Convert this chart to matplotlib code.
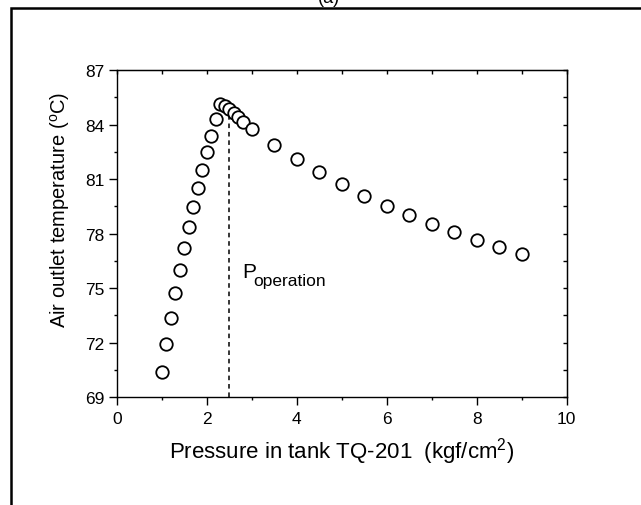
import matplotlib
matplotlib.use("Agg")
import matplotlib.pyplot as plt
from matplotlib.patches import Rectangle
from matplotlib.ticker import MultipleLocator

plt.rcParams['font.family'] = ['Liberation Sans', 'DejaVu Sans']
plt.rcParams['mathtext.fontset'] = 'custom'
plt.rcParams['mathtext.rm'] = 'Liberation Sans'
plt.rcParams['mathtext.it'] = 'Liberation Sans:italic'

# Data
pressure = [1.0, 1.1, 1.2, 1.3, 1.4, 1.5, 1.6, 1.7, 1.8, 1.9, 2.0, 2.1, 2.2,
            2.3, 2.4, 2.5, 2.6, 2.7, 2.8, 3.0, 3.5, 4.0, 4.5, 5.0, 5.5, 6.0,
            6.5, 7.0, 7.5, 8.0, 8.5, 9.0]
temperature = [70.36, 71.90, 73.35, 74.72, 75.99, 77.20, 78.37, 79.46, 80.50,
               81.51, 82.47, 83.38, 84.30, 85.15, 85.00, 84.85, 84.63, 84.39,
               84.15, 83.75, 82.87, 82.10, 81.37, 80.70, 80.08, 79.53, 79.02,
               78.52, 78.10, 77.64, 77.24, 76.87]
p_operation = 2.5
p_operation_temp = 84.85
x_ticks = [0, 2, 4, 6, 8, 10]
y_ticks = [69, 72, 75, 78, 81, 84, 87]

W, H = 641, 506
fig = plt.figure(figsize=(W / 100, H / 100), dpi=100)

# outer frame (cropped at right/bottom)
fig.patches.append(Rectangle((11 / W, -0.5), 2.0, 1.5 - 9 / H, transform=fig.transFigure,
                             fill=False, edgecolor='black', linewidth=1.8, zorder=0))
fig.text(329 / W, 1 - 7 / H, '(a)', ha='center', va='bottom', fontsize=13)

ax = fig.add_axes([116.7 / W, 1 - 398 / H, 450 / W, 327 / H])
ax.set_xlim(0, 10)
ax.set_ylim(69, 87)

ax.plot([p_operation, p_operation], [69, p_operation_temp], color='black',
        linestyle=(0, (3, 2.5)), linewidth=1.1, zorder=2)
ax.plot(pressure, temperature, linestyle='none', marker='o', markersize=9,
        markerfacecolor='white', markeredgecolor='black', markeredgewidth=1.3,
        zorder=3, clip_on=False)

ax.set_xticks(x_ticks)
ax.set_yticks(y_ticks)
ax.xaxis.set_minor_locator(MultipleLocator(1))
ax.yaxis.set_minor_locator(MultipleLocator(1.5))
ax.tick_params(which='major', direction='out', length=5.5, width=1, labelsize=12.5,
               top=False, right=False)
ax.tick_params(axis='x', which='major', pad=4.5)
ax.tick_params(axis='y', which='major', pad=3.2)
ax.tick_params(which='minor', direction='out', length=2.5, width=1,
               top=False, right=False)
for s in ax.spines.values():
    s.set_linewidth(1.0)

secx = ax.secondary_xaxis('top')
secx.set_xticks(range(0, 11))
secx.tick_params(direction='in', length=3, width=1, labeltop=False)
secx.xaxis.set_minor_locator(plt.NullLocator())
secy = ax.secondary_yaxis('right')
secy.set_yticks([69 + 1.5 * i for i in range(13)])
secy.tick_params(direction='in', length=3, width=1, labelright=False)
secy.yaxis.set_minor_locator(plt.NullLocator())

ax.set_xlabel('Pressure in tank TQ-201  (kgf/cm$^{\\rm 2}$)', fontsize=16)
ax.xaxis.set_label_coords(0.5, -0.117)
ax.set_ylabel('Air outlet temperature ($^{\\rm o}$C)', fontsize=14.5)
ax.yaxis.set_label_coords(-0.1, 0.575)

ax.text(2.8, 75.59, 'P', fontsize=15, ha='left', va='baseline')
ax.text(3.04, 75.16, 'operation', fontsize=12.5, ha='left', va='baseline')

fig.savefig('out.png', dpi=100)
